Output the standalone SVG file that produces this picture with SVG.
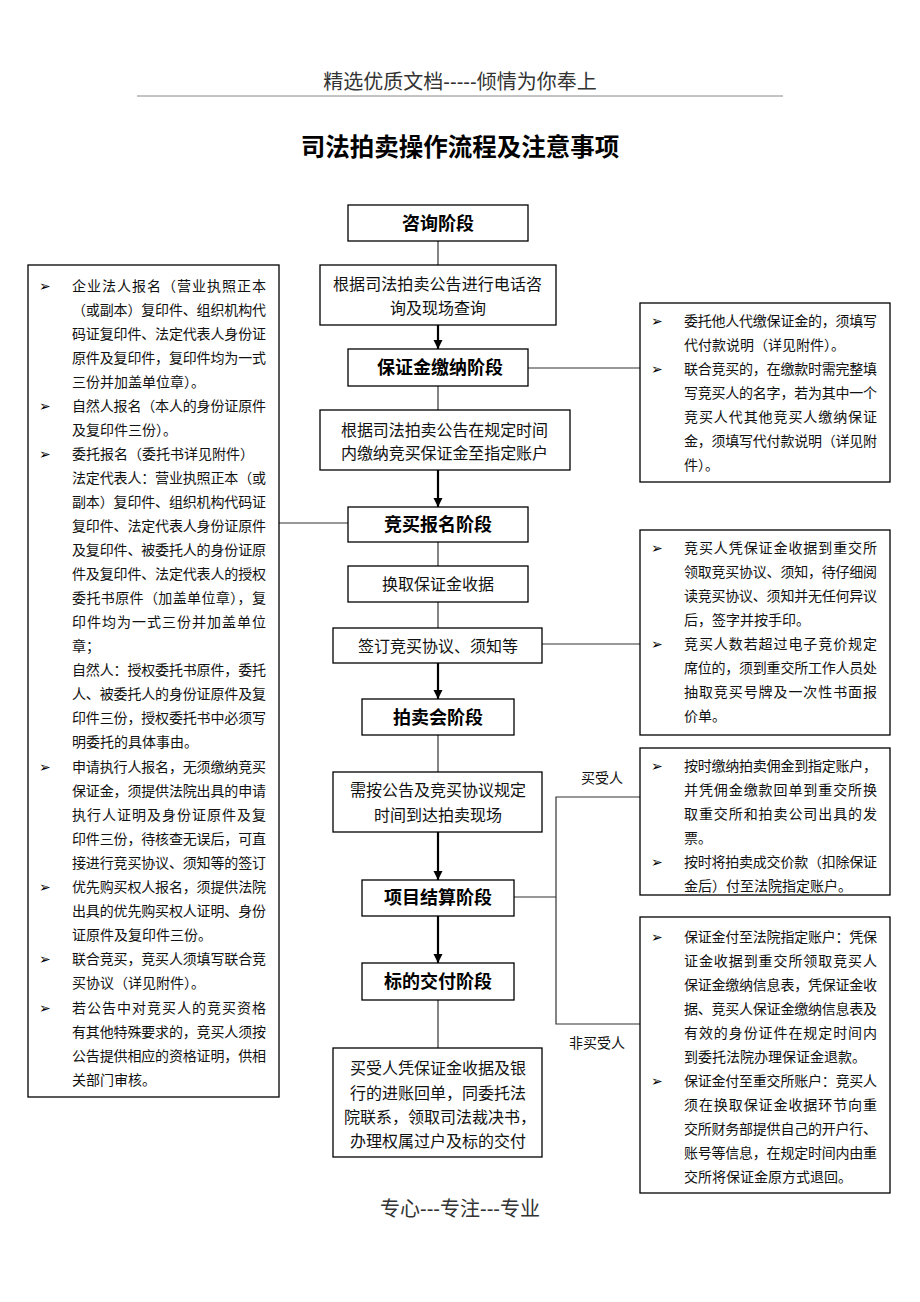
<svg xmlns="http://www.w3.org/2000/svg" width="920" height="1302" viewBox="0 0 920 1302">
<defs>
<style>
.box{fill:#fff;stroke:#000;stroke-width:1.3}
.t{font-family:"Liberation Sans","Noto Sans CJK SC",sans-serif;font-size:14px;fill:#111;dominant-baseline:central}
.c{font-size:16px;text-anchor:middle}
.s{font-size:16px}
.h{font-size:18px;font-weight:bold;text-anchor:middle;fill:#000}
.b{font-family:"DejaVu Sans",sans-serif;font-size:14px;fill:#000;dominant-baseline:central}
.thin{stroke:#333;stroke-width:1.2;fill:none}
.arr{stroke:#000;stroke-width:2.2;marker-end:url(#ah)}
</style>
<marker id="ah" viewBox="0 0 10 10" refX="10" refY="5" markerUnits="userSpaceOnUse" markerWidth="9" markerHeight="10" orient="auto">
<path d="M0,0 L10,5 L0,10 z" fill="#000"/>
</marker>
</defs>
<rect width="920" height="1302" fill="#fff"/>

<g id="header">
<text class="t" x="460" y="82" style="font-size:20px;text-anchor:middle;fill:#333">精选优质文档-----倾情为你奉上</text>
<line x1="137" y1="96" x2="783" y2="96" stroke="#888" stroke-width="1"/>
<text class="t" x="460" y="147" style="font-size:24.5px;font-weight:bold;text-anchor:middle;fill:#000">司法拍卖操作流程及注意事项</text>
</g>

<g id="connectors">
<line class="thin" x1="438" y1="241" x2="438" y2="265"/>
<line class="thin" x1="438" y1="386" x2="438" y2="410"/>
<line class="thin" x1="438" y1="542" x2="438" y2="566"/>
<line class="thin" x1="438" y1="602" x2="438" y2="628"/>
<line class="thin" x1="438" y1="735" x2="438" y2="772"/>
<line class="thin" x1="438" y1="1000" x2="438" y2="1048"/>
<line class="thin" x1="528" y1="368" x2="640" y2="368"/>
<line class="thin" x1="279" y1="523" x2="348" y2="523"/>
<line class="thin" x1="542" y1="644" x2="640" y2="644"/>
<line class="thin" x1="514" y1="897" x2="556" y2="897"/>
<polyline class="thin" points="640,797 556,797 556,1024 640,1024"/>
<line class="arr" x1="438" y1="325" x2="438" y2="349"/>
<line class="arr" x1="438" y1="470" x2="438" y2="507"/>
<line class="arr" x1="438" y1="663" x2="438" y2="699"/>
<line class="arr" x1="438" y1="832" x2="438" y2="880"/>
<line class="arr" x1="438" y1="916" x2="438" y2="963"/>
<text class="t" x="602" y="778" style="text-anchor:middle">买受人</text>
<text class="t" x="597" y="1043" style="text-anchor:middle">非买受人</text>
</g>

<g id="n-consult">
<rect class="box" x="348" y="205" width="180" height="36"/>
<text class="t h" x="438" y="224">咨询阶段</text>
</g>
<g id="n-query">
<rect class="box" x="320" y="265" width="236" height="60"/>
<text class="t s" x="333" y="284" textLength="209" lengthAdjust="spacing">根据司法拍卖公告进行电话咨</text>
<text class="t c" x="438" y="308">询及现场查询</text>
</g>
<g id="n-deposit">
<rect class="box" x="348" y="349" width="180" height="37"/>
<text class="t h" x="440" y="368">保证金缴纳阶段</text>
</g>
<g id="n-pay">
<rect class="box" x="320" y="410" width="250" height="60"/>
<text class="t s" x="341" y="430" textLength="207" lengthAdjust="spacing">根据司法拍卖公告在规定时间</text>
<text class="t s" x="341" y="453" textLength="207" lengthAdjust="spacing">内缴纳竞买保证金至指定账户</text>
</g>
<g id="n-register">
<rect class="box" x="348" y="507" width="180" height="35"/>
<text class="t h" x="438" y="525">竞买报名阶段</text>
</g>
<g id="n-receipt">
<rect class="box" x="348" y="566" width="180" height="36"/>
<text class="t c" x="438" y="584">换取保证金收据</text>
</g>
<g id="n-sign">
<rect class="box" x="333" y="628" width="209" height="35"/>
<text class="t c" x="438" y="646">签订竞买协议、须知等</text>
</g>
<g id="n-auction">
<rect class="box" x="362" y="699" width="152" height="36"/>
<text class="t h" x="438" y="718">拍卖会阶段</text>
</g>
<g id="n-arrive">
<rect class="box" x="333" y="772" width="209" height="60"/>
<text class="t s" x="350" y="790" textLength="176" lengthAdjust="spacing">需按公告及竞买协议规定</text>
<text class="t c" x="438" y="815">时间到达拍卖现场</text>
</g>
<g id="n-settle">
<rect class="box" x="362" y="880" width="152" height="36"/>
<text class="t h" x="438" y="898">项目结算阶段</text>
</g>
<g id="n-deliver">
<rect class="box" x="362" y="963" width="152" height="37"/>
<text class="t h" x="438" y="982">标的交付阶段</text>
</g>
<g id="n-final">
<rect class="box" x="333" y="1048" width="209" height="109"/>
<text class="t c" x="438" y="1068">买受人凭保证金收据及银</text>
<text class="t c" x="438" y="1093">行的进账回单，同委托法</text>
<text class="t c" x="440" y="1117">院联系，领取司法裁决书，</text>
<text class="t c" x="438" y="1141">办理权属过户及标的交付</text>
</g>

<g id="n-left-notes">
<rect class="box" x="28" y="265" width="251" height="832"/>
<text class="b" x="39" y="286">➢</text>
<text class="t" x="72" y="286" textLength="194" lengthAdjust="spacing">企业法人报名（营业执照正本</text>
<text class="t" x="72" y="310" textLength="194" lengthAdjust="spacing">（或副本）复印件、组织机构代</text>
<text class="t" x="72" y="334" textLength="194" lengthAdjust="spacing">码证复印件、法定代表人身份证</text>
<text class="t" x="72" y="358" textLength="194" lengthAdjust="spacing">原件及复印件，复印件均为一式</text>
<text class="t" x="72" y="382">三份并加盖单位章）。</text>
<text class="b" x="39" y="406">➢</text>
<text class="t" x="72" y="406" textLength="194" lengthAdjust="spacing">自然人报名（本人的身份证原件</text>
<text class="t" x="72" y="430">及复印件三份）。</text>
<text class="b" x="39" y="454">➢</text>
<text class="t" x="72" y="454">委托报名（委托书详见附件）</text>
<text class="t" x="72" y="478" textLength="194" lengthAdjust="spacing">法定代表人：营业执照正本（或</text>
<text class="t" x="72" y="502" textLength="194" lengthAdjust="spacing">副本）复印件、组织机构代码证</text>
<text class="t" x="72" y="526" textLength="194" lengthAdjust="spacing">复印件、法定代表人身份证原件</text>
<text class="t" x="72" y="550" textLength="194" lengthAdjust="spacing">及复印件、被委托人的身份证原</text>
<text class="t" x="72" y="574" textLength="194" lengthAdjust="spacing">件及复印件、法定代表人的授权</text>
<text class="t" x="72" y="598" textLength="194" lengthAdjust="spacing">委托书原件（加盖单位章），复</text>
<text class="t" x="72" y="622" textLength="194" lengthAdjust="spacing">印件均为一式三份并加盖单位</text>
<text class="t" x="72" y="646">章；</text>
<text class="t" x="72" y="670" textLength="194" lengthAdjust="spacing">自然人：授权委托书原件，委托</text>
<text class="t" x="72" y="694" textLength="194" lengthAdjust="spacing">人、被委托人的身份证原件及复</text>
<text class="t" x="72" y="718" textLength="194" lengthAdjust="spacing">印件三份，授权委托书中必须写</text>
<text class="t" x="72" y="742">明委托的具体事由。</text>
<text class="b" x="39" y="767">➢</text>
<text class="t" x="72" y="767" textLength="194" lengthAdjust="spacing">申请执行人报名，无须缴纳竞买</text>
<text class="t" x="72" y="791" textLength="194" lengthAdjust="spacing">保证金，须提供法院出具的申请</text>
<text class="t" x="72" y="815" textLength="194" lengthAdjust="spacing">执行人证明及身份证原件及复</text>
<text class="t" x="72" y="839" textLength="194" lengthAdjust="spacing">印件三份，待核查无误后，可直</text>
<text class="t" x="72" y="863" textLength="194" lengthAdjust="spacing">接进行竞买协议、须知等的签订</text>
<text class="b" x="39" y="887">➢</text>
<text class="t" x="72" y="887" textLength="194" lengthAdjust="spacing">优先购买权人报名，须提供法院</text>
<text class="t" x="72" y="911" textLength="194" lengthAdjust="spacing">出具的优先购买权人证明、身份</text>
<text class="t" x="72" y="935">证原件及复印件三份。</text>
<text class="b" x="39" y="959">➢</text>
<text class="t" x="72" y="959" textLength="194" lengthAdjust="spacing">联合竞买，竞买人须填写联合竞</text>
<text class="t" x="72" y="983">买协议（详见附件）。</text>
<text class="b" x="39" y="1008">➢</text>
<text class="t" x="72" y="1008" textLength="194" lengthAdjust="spacing">若公告中对竞买人的竞买资格</text>
<text class="t" x="72" y="1032" textLength="194" lengthAdjust="spacing">有其他特殊要求的，竞买人须按</text>
<text class="t" x="72" y="1056" textLength="194" lengthAdjust="spacing">公告提供相应的资格证明，供相</text>
<text class="t" x="72" y="1080">关部门审核。</text>
</g>

<g id="n-deposit-notes">
<rect class="box" x="640" y="303" width="250" height="179"/>
<text class="b" x="651" y="321">➢</text>
<text class="t" x="684" y="321" textLength="193" lengthAdjust="spacing">委托他人代缴保证金的，须填写</text>
<text class="t" x="684" y="345">代付款说明（详见附件）。</text>
<text class="b" x="651" y="369">➢</text>
<text class="t" x="684" y="369" textLength="193" lengthAdjust="spacing">联合竞买的，在缴款时需完整填</text>
<text class="t" x="684" y="393" textLength="193" lengthAdjust="spacing">写竞买人的名字，若为其中一个</text>
<text class="t" x="684" y="417" textLength="193" lengthAdjust="spacing">竞买人代其他竞买人缴纳保证</text>
<text class="t" x="684" y="441" textLength="193" lengthAdjust="spacing">金，须填写代付款说明（详见附</text>
<text class="t" x="684" y="465">件）。</text>
</g>

<g id="n-sign-notes">
<rect class="box" x="640" y="530" width="250" height="205"/>
<text class="b" x="651" y="548">➢</text>
<text class="t" x="684" y="548" textLength="193" lengthAdjust="spacing">竞买人凭保证金收据到重交所</text>
<text class="t" x="684" y="572" textLength="193" lengthAdjust="spacing">领取竞买协议、须知，待仔细阅</text>
<text class="t" x="684" y="596" textLength="193" lengthAdjust="spacing">读竞买协议、须知并无任何异议</text>
<text class="t" x="684" y="620">后，签字并按手印。</text>
<text class="b" x="651" y="644">➢</text>
<text class="t" x="684" y="644" textLength="193" lengthAdjust="spacing">竞买人数若超过电子竞价规定</text>
<text class="t" x="684" y="668" textLength="193" lengthAdjust="spacing">席位的，须到重交所工作人员处</text>
<text class="t" x="684" y="692" textLength="193" lengthAdjust="spacing">抽取竞买号牌及一次性书面报</text>
<text class="t" x="684" y="716">价单。</text>
</g>

<g id="n-buyer-notes">
<rect class="box" x="640" y="748" width="250" height="147"/>
<text class="b" x="651" y="766">➢</text>
<text class="t" x="684" y="766" textLength="193" lengthAdjust="spacing">按时缴纳拍卖佣金到指定账户，</text>
<text class="t" x="684" y="790" textLength="193" lengthAdjust="spacing">并凭佣金缴款回单到重交所换</text>
<text class="t" x="684" y="814" textLength="193" lengthAdjust="spacing">取重交所和拍卖公司出具的发</text>
<text class="t" x="684" y="838">票。</text>
<text class="b" x="651" y="862">➢</text>
<text class="t" x="684" y="862" textLength="193" lengthAdjust="spacing">按时将拍卖成交价款（扣除保证</text>
<text class="t" x="684" y="886">金后）付至法院指定账户。</text>
</g>

<g id="n-nonbuyer-notes">
<rect class="box" x="640" y="917" width="250" height="276"/>
<text class="b" x="651" y="937">➢</text>
<text class="t" x="684" y="937" textLength="193" lengthAdjust="spacing">保证金付至法院指定账户：凭保</text>
<text class="t" x="684" y="961" textLength="193" lengthAdjust="spacing">证金收据到重交所领取竞买人</text>
<text class="t" x="684" y="985" textLength="193" lengthAdjust="spacing">保证金缴纳信息表，凭保证金收</text>
<text class="t" x="684" y="1009" textLength="193" lengthAdjust="spacing">据、竞买人保证金缴纳信息表及</text>
<text class="t" x="684" y="1033" textLength="193" lengthAdjust="spacing">有效的身份证件在规定时间内</text>
<text class="t" x="684" y="1057">到委托法院办理保证金退款。</text>
<text class="b" x="651" y="1081">➢</text>
<text class="t" x="684" y="1081" textLength="193" lengthAdjust="spacing">保证金付至重交所账户：竞买人</text>
<text class="t" x="684" y="1105" textLength="193" lengthAdjust="spacing">须在换取保证金收据环节向重</text>
<text class="t" x="684" y="1129" textLength="193" lengthAdjust="spacing">交所财务部提供自己的开户行、</text>
<text class="t" x="684" y="1153" textLength="193" lengthAdjust="spacing">账号等信息，在规定时间内由重</text>
<text class="t" x="684" y="1177">交所将保证金原方式退回。</text>
</g>

<g id="footer">
<text class="t" x="460" y="1209" style="font-size:20px;text-anchor:middle;fill:#333">专心---专注---专业</text>
</g>
</svg>
